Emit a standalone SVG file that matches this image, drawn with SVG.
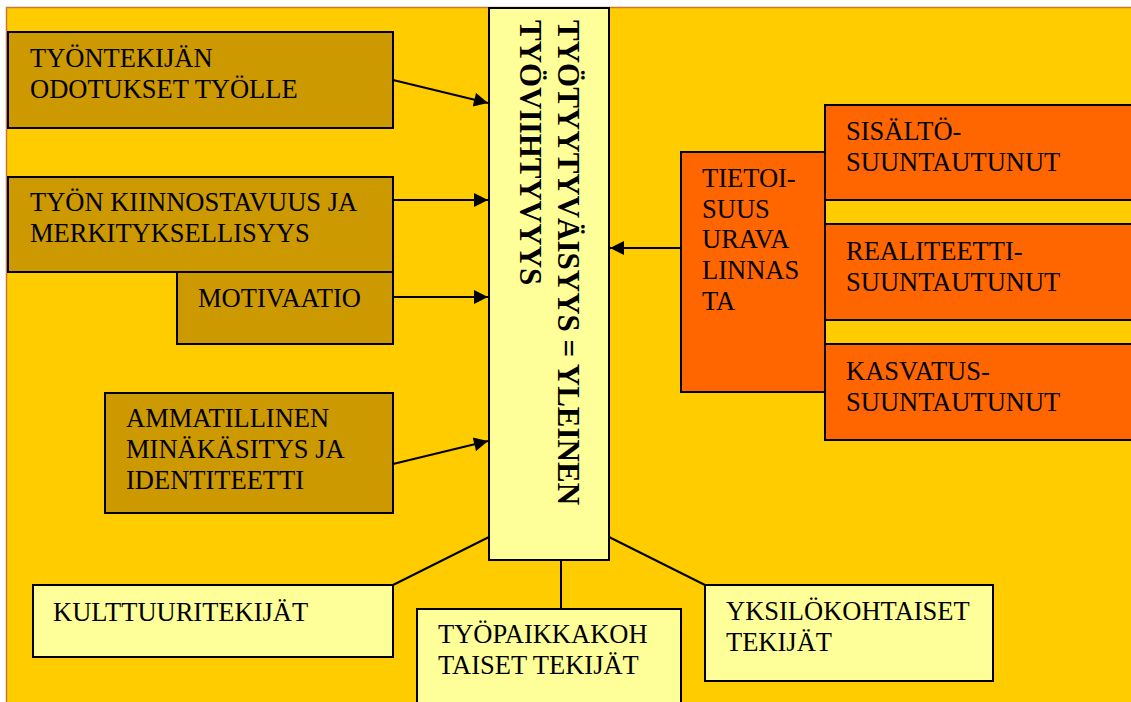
<svg xmlns="http://www.w3.org/2000/svg" width="1131" height="702" viewBox="0 0 1131 702">
<defs>
<style>
.brown{fill:#CC9900;stroke:#000;stroke-width:2}
.orange{fill:#FF6600;stroke:#000;stroke-width:2}
.light{fill:#FFFF99;stroke:#000;stroke-width:2}
.t{font-family:'Liberation Serif',Tinos,'Times New Roman','DejaVu Serif',serif;font-size:26.5px;fill:#000}
.tb{font-family:'Liberation Serif',Tinos,'Times New Roman','DejaVu Serif',serif;font-size:31px;font-weight:bold;fill:#000}
.c{stroke:#000;stroke-width:2;fill:none}
</style>
<marker id="ah" viewBox="0 0 10 10" refX="10" refY="5" markerWidth="8" markerHeight="7" markerUnits="strokeWidth" orient="auto">
<path d="M0,0 L10,5 L0,10 Z" fill="#000"/>
</marker>
</defs>
<rect x="0" y="0" width="1131" height="702" fill="#FFFFFF"/>
<rect x="6.5" y="7.5" width="1130" height="700" fill="#FFCC00" stroke="#C8782F" stroke-width="1.5"/>

<g id="connectors">
<line class="c" x1="393" y1="80" x2="488" y2="103" marker-end="url(#ah)"/>
<line class="c" x1="393" y1="200" x2="488" y2="200" marker-end="url(#ah)"/>
<line class="c" x1="393" y1="297" x2="488" y2="297" marker-end="url(#ah)"/>
<line class="c" x1="393" y1="464" x2="488" y2="441" marker-end="url(#ah)"/>
<line class="c" x1="681" y1="248" x2="610" y2="248" marker-end="url(#ah)"/>
<line class="c" x1="489" y1="537" x2="393" y2="585"/>
<line class="c" x1="561" y1="560" x2="561" y2="609"/>
<line class="c" x1="609" y1="537" x2="705" y2="585"/>
</g>

<g id="center">
<rect class="light" x="489" y="8" width="120" height="552"/>
<text class="tb" transform="translate(558,20) rotate(90)">TYÖTYYTYVÄISYYS = YLEINEN</text>
<text class="tb" transform="translate(520,20) rotate(90)">TYÖVIIHTYVYYS</text>
</g>

<g id="odotukset">
<rect class="brown" x="8" y="32" width="385" height="96"/>
<text class="t" x="30" y="67">TYÖNTEKIJÄN</text>
<text class="t" x="30" y="98">ODOTUKSET TYÖLLE</text>
</g>

<g id="kiinnostavuus">
<rect class="brown" x="8" y="177" width="385" height="95"/>
<text class="t" x="30" y="211">TYÖN KIINNOSTAVUUS JA</text>
<text class="t" x="30" y="242">MERKITYKSELLISYYS</text>
</g>

<g id="motivaatio">
<rect class="brown" x="177" y="272" width="216" height="72"/>
<text class="t" x="198" y="307">MOTIVAATIO</text>
</g>

<g id="ammatillinen">
<rect class="brown" x="105" y="393" width="288" height="120"/>
<text class="t" x="126" y="427">AMMATILLINEN</text>
<text class="t" x="126" y="458">MINÄKÄSITYS JA</text>
<text class="t" x="126" y="489">IDENTITEETTI</text>
</g>

<g id="tietoisuus">
<rect class="orange" x="681" y="152" width="144" height="240"/>
<text class="t" x="702" y="187">TIETOI-</text>
<text class="t" x="702" y="218">SUUS</text>
<text class="t" x="702" y="248">URAVA</text>
<text class="t" x="702" y="279">LINNAS</text>
<text class="t" x="702" y="310">TA</text>
</g>

<g id="sisalto">
<rect class="orange" x="825" y="105" width="320" height="95"/>
<text class="t" x="846" y="140">SISÄLTÖ-</text>
<text class="t" x="846" y="171">SUUNTAUTUNUT</text>
</g>

<g id="realiteetti">
<rect class="orange" x="825" y="224" width="320" height="96"/>
<text class="t" x="846" y="260">REALITEETTI-</text>
<text class="t" x="846" y="291">SUUNTAUTUNUT</text>
</g>

<g id="kasvatus">
<rect class="orange" x="825" y="344" width="320" height="96"/>
<text class="t" x="846" y="380">KASVATUS-</text>
<text class="t" x="846" y="411">SUUNTAUTUNUT</text>
</g>

<g id="kulttuuri">
<rect class="light" x="33" y="585" width="360" height="72"/>
<text class="t" x="53" y="621">KULTTUURITEKIJÄT</text>
</g>

<g id="tyopaikka">
<rect class="light" x="417" y="609" width="264" height="110"/>
<text class="t" x="438" y="643">TYÖPAIKKAKOH</text>
<text class="t" x="438" y="674">TAISET TEKIJÄT</text>
</g>

<g id="yksilo">
<rect class="light" x="705" y="585" width="288" height="96"/>
<text class="t" x="726" y="620">YKSILÖKOHTAISET</text>
<text class="t" x="726" y="651">TEKIJÄT</text>
</g>
</svg>
